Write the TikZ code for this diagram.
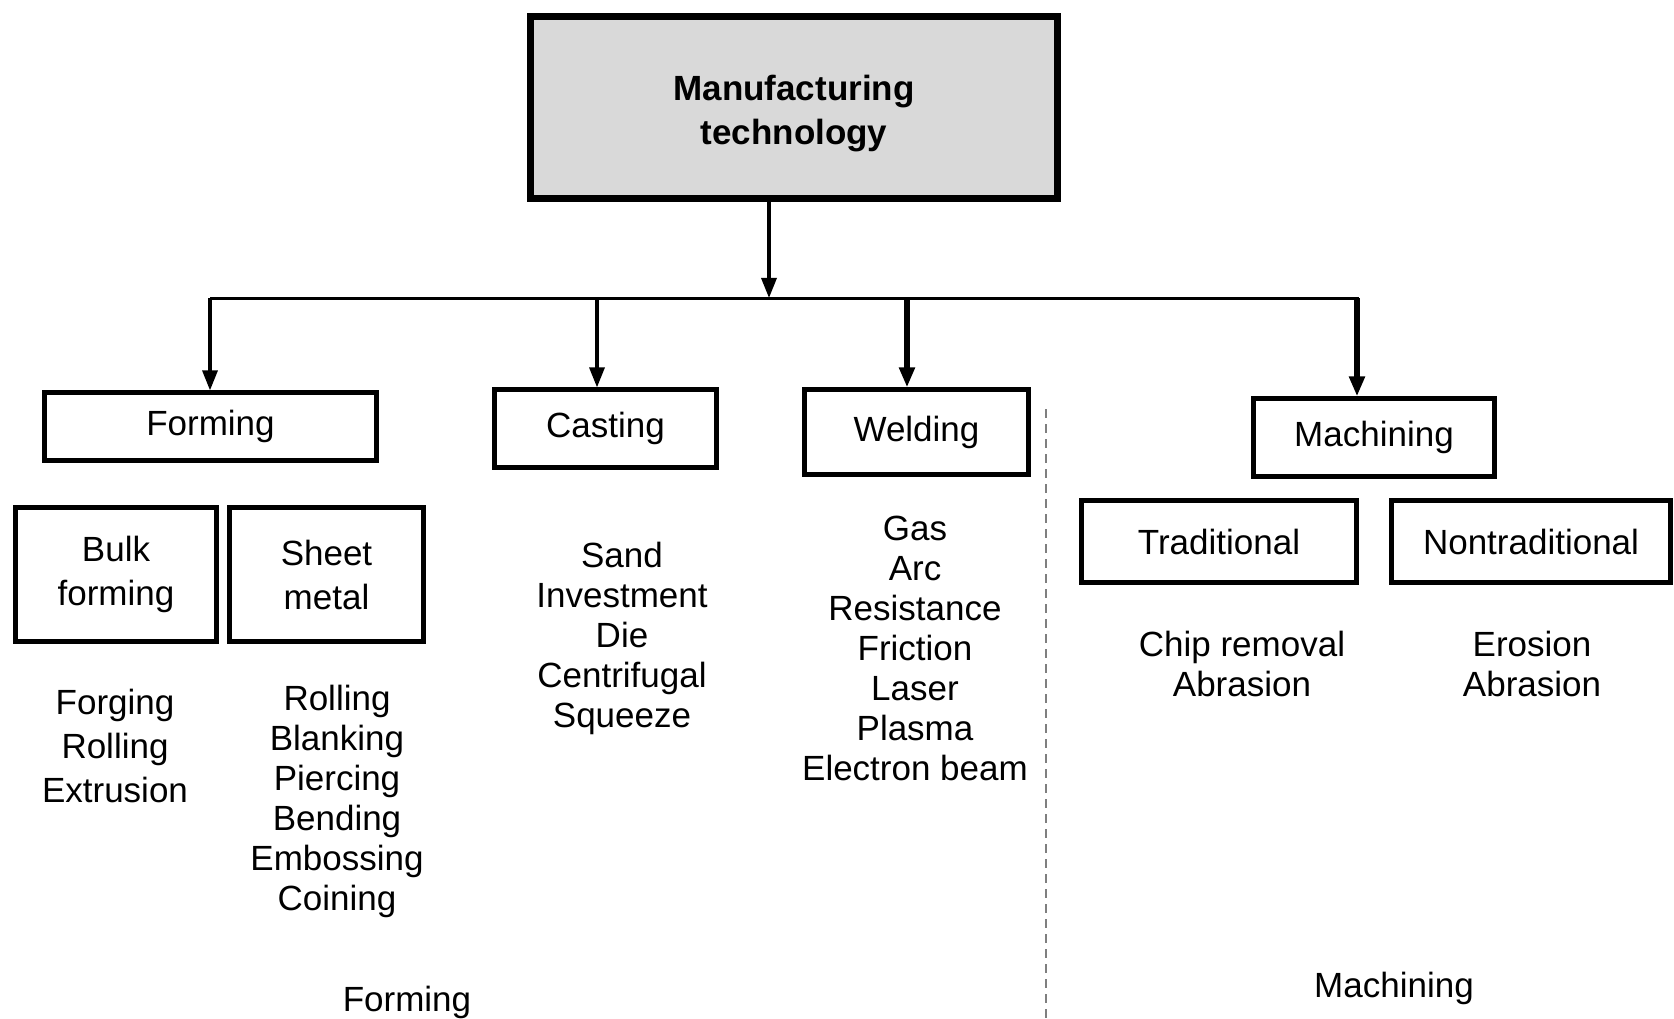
\documentclass[tikz,border=0pt]{standalone}
\usepackage{fontspec}
\setmainfont{Liberation Sans}
\usetikzlibrary{arrows.meta}
\definecolor{boxgray}{HTML}{D9D9D9}
\definecolor{dashgray}{HTML}{7F7F7F}
\begin{document}
\begin{tikzpicture}[x=1pt,y=-1pt,
  box/.style={draw, line width=4.2pt, inner sep=0pt, align=center,
    font=\fontsize{35}{44}\selectfont},
  txt/.style={inner sep=0pt, align=center, font=\fontsize{35}{40}\selectfont},
  arr/.style={-{Triangle[length=20pt,width=15pt]}, line width=3.3pt},
  arrb/.style={-{Triangle[length=20pt,width=15pt]}, line width=5.5pt},
  bus/.style={line width=3pt}]
\useasboundingbox (0,0) rectangle (1674,1019);

% main box
\node[draw, line width=7pt, fill=boxgray, minimum width=527pt, minimum height=182pt,
  inner sep=0pt, align=center, font=\bfseries\fontsize{35}{44}\selectfont]
  (main) at (794,108) {};
\node[inner sep=0pt, align=center, font=\bfseries\fontsize{35}{44}\selectfont]
  (maintext) at (794,114) {Manufacturing\\technology};

% level 1 boxes
\node[box, minimum width=332pt, minimum height=68pt] (forming) at (210.5,426.5) {Forming};
\node[box, minimum width=222pt, minimum height=78pt] (casting) at (605.5,428.5) {Casting};
\node[box, minimum width=224pt, minimum height=85pt] (welding) at (916.5,432) {Welding};
\node[box, minimum width=241pt, minimum height=78pt] (machining) at (1374,437.5) {Machining};

% level 2 boxes
\node[box, minimum width=201pt, minimum height=134pt] (bulk) at (116,574.5) {Bulk\\forming};
\node[box, minimum width=194pt, minimum height=134pt] (sheet) at (326.5,574.5) {Sheet\\metal};
\node[box, minimum width=275pt, minimum height=82pt] (trad) at (1219,541.5) {Traditional};
\node[box, minimum width=279pt, minimum height=82pt] (nontrad) at (1531,541.5) {Nontraditional};

% connectors
\coordinate (mdrop) at (769,202);
\coordinate (busL) at (210,298);
\coordinate (busR) at (1359,298);
\coordinate (bF) at (210,298);
\coordinate (bC) at (597,298);
\coordinate (bW) at (907,298);
\coordinate (bM) at (1357,298);
\draw[bus] (busL) -- (busR);
\draw[arr] (main.south -| mdrop) -- (mdrop |- busL);
\draw[arr] (bF) -- (bF |- forming.north);
\draw[arr] (bC) -- (bC |- casting.north);
\draw[arrb] (bW) -- (bW |- welding.north);
\draw[arrb] (bM) -- (bM |- machining.north);

% dashed separator
\coordinate (dtop) at (1046,409);
\coordinate (dbot) at (1046,1019);
\draw[dashgray, line width=2.8pt, dash pattern=on 9pt off 6pt] (dtop) -- (dbot);

% lists
\node[txt, font=\fontsize{35}{44}\selectfont] (bulklist) at (115,746) {Forging\\Rolling\\Extrusion};
\node[txt] (sheetlist) at (337,801) {Rolling\\Blanking\\Piercing\\Bending\\Embossing\\Coining};
\node[txt] (castlist) at (622,638) {Sand\\Investment\\Die\\Centrifugal\\Squeeze};
\node[txt] (weldlist) at (915,648) {Gas\\Arc\\Resistance\\Friction\\Laser\\Plasma\\Electron beam};
\node[txt] (tradlist) at (1242,664) {Chip removal\\Abrasion};
\node[txt] (nontradlist) at (1532,664) {Erosion\\Abrasion};

% captions
\node[txt] (capF) at (407,1002) {Forming};
\node[txt] (capM) at (1394,988) {Machining};
\end{tikzpicture}
\end{document}
